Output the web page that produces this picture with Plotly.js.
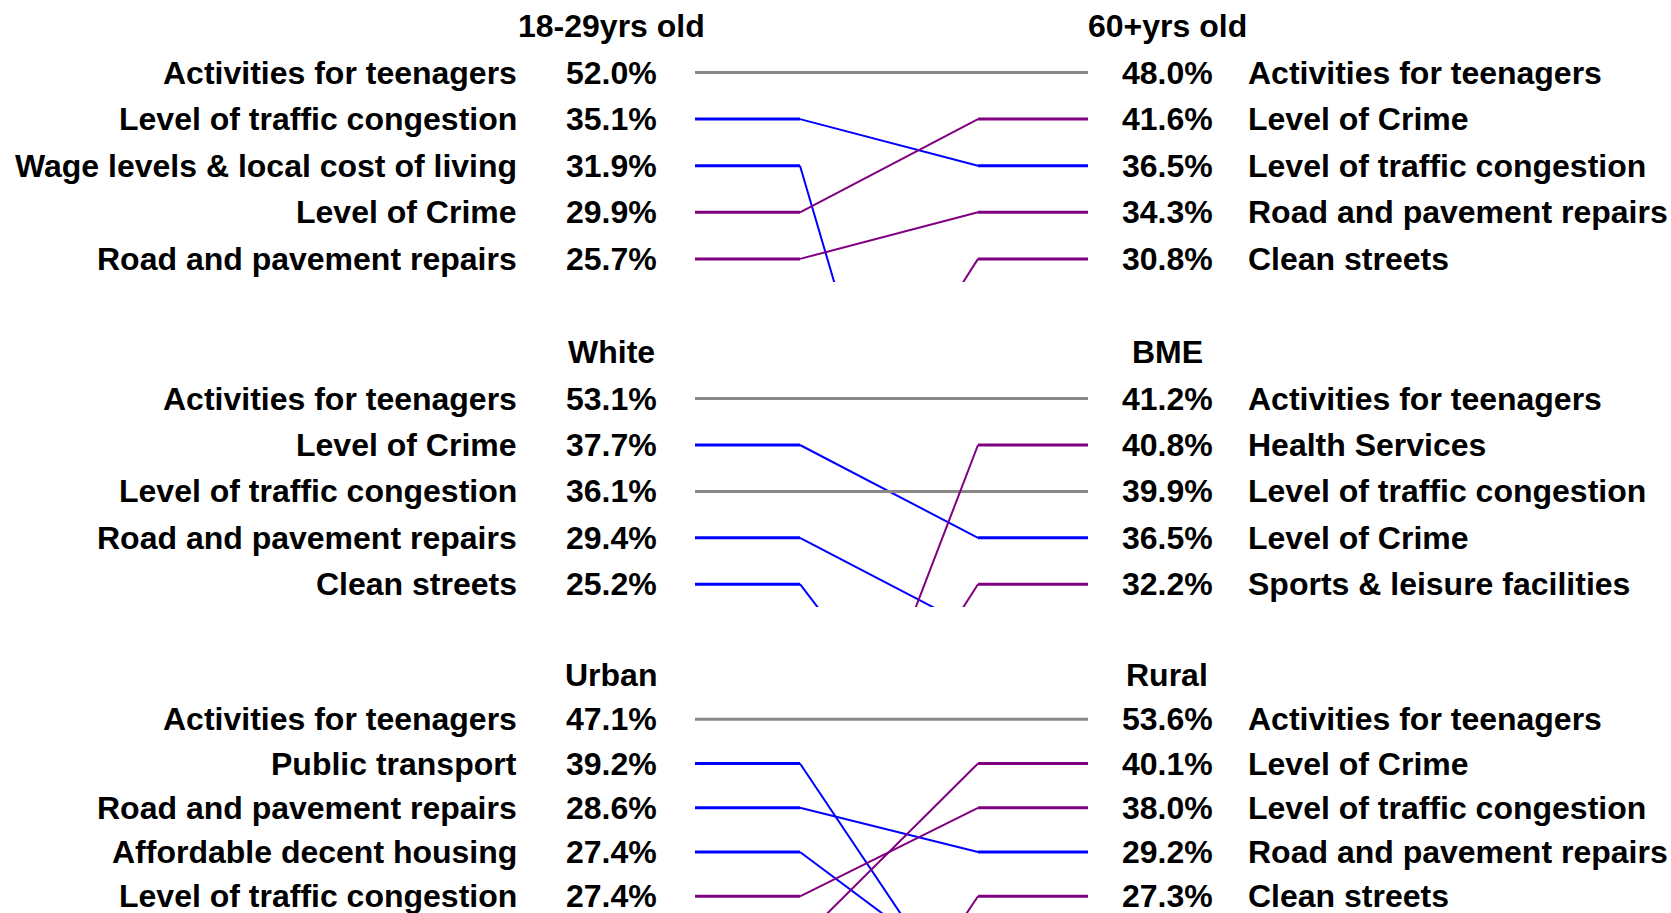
<!DOCTYPE html>
<html>
<head>
<meta charset="utf-8">
<script src="https://cdn.plot.ly/plotly-3.0.1.min.js"></script>
<style>
  html, body { margin: 0; padding: 0; background: #fff; }
  #grafica { width: 1671px; height: 913px; }
</style>
</head>
<body>
<div id="grafica"></div>
<script>
// Panel 1: edad
const edadTitulos = ["18-29yrs old", "60+yrs old"];
const edadIzq = ["Activities for teenagers", "Level of traffic congestion", "Wage levels & local cost of living", "Level of Crime", "Road and pavement repairs"];
const edadIzqPct = [52.0, 35.1, 31.9, 29.9, 25.7];
const edadDer = ["Activities for teenagers", "Level of Crime", "Level of traffic congestion", "Road and pavement repairs", "Clean streets"];
const edadDerPct = [48.0, 41.6, 36.5, 34.3, 30.8];
// puesto estimado de lo que queda fuera del top 5 en el otro grupo
const edadFuera = ["Wage levels & local cost of living", "Clean streets"];
const edadFueraPuesto = [16, 11];

// Panel 2: etnia
const etniaTitulos = ["White", "BME"];
const etniaIzq = ["Activities for teenagers", "Level of Crime", "Level of traffic congestion", "Road and pavement repairs", "Clean streets"];
const etniaIzqPct = [53.1, 37.7, 36.1, 29.4, 25.2];
const etniaDer = ["Activities for teenagers", "Health Services", "Level of traffic congestion", "Level of Crime", "Sports & leisure facilities"];
const etniaDerPct = [41.2, 40.8, 39.9, 36.5, 32.2];
const etniaFuera = ["Road and pavement repairs", "Clean streets", "Health Services", "Sports & leisure facilities"];
const etniaFueraPuesto = [6, 10, 12, 11];

// Panel 3: zona
const zonaTitulos = ["Urban", "Rural"];
const zonaIzq = ["Activities for teenagers", "Public transport", "Road and pavement repairs", "Affordable decent housing", "Level of traffic congestion"];
const zonaIzqPct = [47.1, 39.2, 28.6, 27.4, 27.4];
const zonaDer = ["Activities for teenagers", "Level of Crime", "Level of traffic congestion", "Road and pavement repairs", "Clean streets"];
const zonaDerPct = [53.6, 40.1, 38.0, 29.2, 27.3];
const zonaFuera = ["Public transport", "Affordable decent housing", "Level of Crime", "Clean streets"];
const zonaFueraPuesto = [8, 7, 6, 11];

const W = 1671, H = 913;
// columnas (px) y geometría de cada panel
const X_ETIQ_IZQ = 519, X_PCT_IZQ = 611, X_PCT_DER = 1167, X_ETIQ_DER = 1246;
const X_LINEA = [695, 800, 978, 1088];
const geom = [
    { fila1: 72.5, paso: 46.6, arriba: 0, abajo: 282 },
    { fila1: 398.6, paso: 46.4, arriba: 320, abajo: 607 },
    { fila1: 719.3, paso: 44.25, arriba: 640, abajo: 913 },
];

const GRIS = "#888888", AZUL = "#0000ff", MORADO = "#800080";
const fuente = { family: "Liberation Sans, Arial, sans-serif", size: 32, color: "#000", weight: "bold" };

const paneles = [
    [edadTitulos, edadIzq, edadIzqPct, edadDer, edadDerPct, edadFuera, edadFueraPuesto],
    [etniaTitulos, etniaIzq, etniaIzqPct, etniaDer, etniaDerPct, etniaFuera, etniaFueraPuesto],
    [zonaTitulos, zonaIzq, zonaIzqPct, zonaDer, zonaDerPct, zonaFuera, zonaFueraPuesto],
];

const traces = [];
const annotations = [];
const layout = {
    width: W, height: H,
    margin: { l: 0, r: 0, t: 0, b: 0 },
    paper_bgcolor: "#fff", plot_bgcolor: "#fff",
    showlegend: false,
    xaxis: { range: [0, W], domain: [0, 1], visible: false, fixedrange: true },
};

function texto(x, y, t, anchor, yref) {
    annotations.push({
        x: x, y: y, xref: "x", yref: yref, text: t, showarrow: false,
        xanchor: anchor, yanchor: "middle", font: fuente,
    });
}

paneles.forEach((p, k) => {
    const [titulos, izq, izqPct, der, derPct, fuera, fueraPuesto] = p;
    const g = geom[k];
    const yname = k === 0 ? "y" : "y" + (k + 1);
    const axKey = k === 0 ? "yaxis" : "yaxis" + (k + 1);
    layout[axKey] = {
        domain: [1 - g.abajo / H, 1 - g.arriba / H],
        range: [1 + (g.abajo - g.fila1) / g.paso, 1 + (g.arriba - g.fila1) / g.paso],
        visible: false, fixedrange: true, anchor: "x",
    };

    const puesto = (item, lista) => {
        const i = lista.indexOf(item);
        return i >= 0 ? i + 1 : fueraPuesto[fuera.indexOf(item)];
    };

    // líneas: todos los temas de ambos lados
    const temas = izq.concat(der.filter(d => !izq.includes(d)));
    temas.forEach(t => {
        const a = puesto(t, izq), b = puesto(t, der);
        const color = a === b ? GRIS : (b > a ? AZUL : MORADO);
        traces.push({
            x: [X_LINEA[0], X_LINEA[1], null, X_LINEA[2], X_LINEA[3]],
            y: [a, a, null, b, b],
            xaxis: "x", yaxis: yname, mode: "lines", hoverinfo: "skip",
            line: { color: color, width: 3 },
        });
        traces.push({
            x: [X_LINEA[1], X_LINEA[2]], y: [a, b],
            xaxis: "x", yaxis: yname, mode: "lines", hoverinfo: "skip",
            line: { color: color, width: a === b ? 3 : 2 },
        });
    });

    // textos
    texto(X_PCT_IZQ, 0, titulos[0], "center", yname);
    texto(X_PCT_DER, 0, titulos[1], "center", yname);
    izq.forEach((t, i) => {
        texto(X_ETIQ_IZQ, i + 1, t, "right", yname);
        texto(X_PCT_IZQ, i + 1, izqPct[i].toFixed(1) + "%", "center", yname);
    });
    der.forEach((t, i) => {
        texto(X_PCT_DER, i + 1, derPct[i].toFixed(1) + "%", "center", yname);
        texto(X_ETIQ_DER, i + 1, t, "left", yname);
    });
});

layout.annotations = annotations;

Plotly.newPlot("grafica", traces, layout, { staticPlot: true, displayModeBar: false });
</script>
</body>
</html>
